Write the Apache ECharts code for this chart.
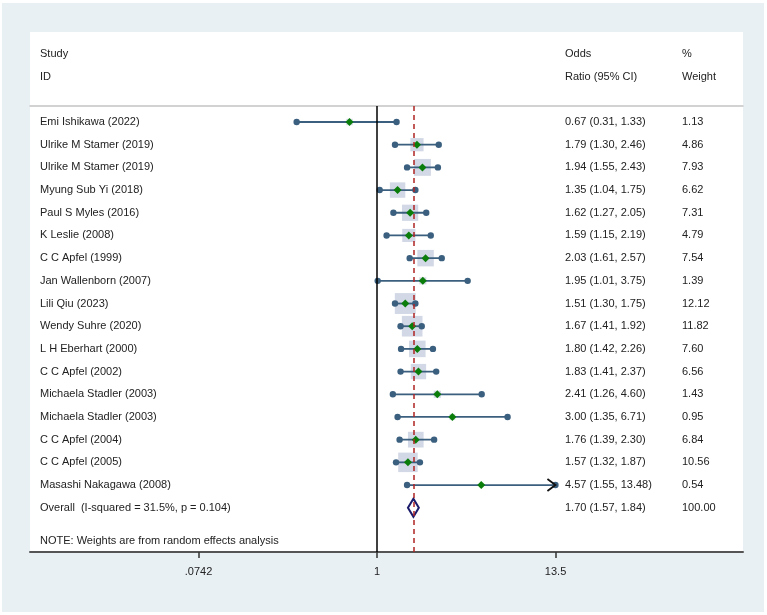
<!DOCTYPE html>
<html>
<head>
<meta charset="utf-8">
<script src="https://cdn.jsdelivr.net/npm/echarts@6/dist/echarts.min.js"></script>
<style>
  html, body { margin: 0; padding: 0; background: #fff; }
  #chart { width: 767px; height: 615px; }
</style>
</head>
<body>
<div id="chart"></div>
<script>
// study rows (top to bottom)
const studies = [
    'Emi Ishikawa (2022)', 'Ulrike M Stamer (2019)', 'Ulrike M Stamer (2019)',
    'Myung Sub Yi (2018)', 'Paul S Myles (2016)', 'K Leslie (2008)',
    'C C Apfel (1999)', 'Jan Wallenborn (2007)', 'Lili Qiu (2023)',
    'Wendy Suhre (2020)', 'L H Eberhart (2000)', 'C C Apfel (2002)',
    'Michaela Stadler (2003)', 'Michaela Stadler (2003)', 'C C Apfel (2004)',
    'C C Apfel (2005)', 'Masashi Nakagawa (2008)'
];
const oddsRatio = [0.67, 1.79, 1.94, 1.35, 1.62, 1.59, 2.03, 1.95, 1.51, 1.67, 1.80, 1.83, 2.41, 3.00, 1.76, 1.57, 4.57];
const ciLow = [0.31, 1.30, 1.55, 1.04, 1.27, 1.15, 1.61, 1.01, 1.30, 1.41, 1.42, 1.41, 1.26, 1.35, 1.39, 1.32, 1.55];
const ciHigh = [1.33, 2.46, 2.43, 1.75, 2.05, 2.19, 2.57, 3.75, 1.75, 1.92, 2.26, 2.37, 4.60, 6.71, 2.30, 1.87, 13.48];
const weights = [1.13, 4.86, 7.93, 6.62, 7.31, 4.79, 7.54, 1.39, 12.12, 11.82, 7.60, 6.56, 1.43, 0.95, 6.84, 10.56, 0.54];
const arrowRows = [16];

// pooled estimate
const overallLabel = 'Overall  (I-squared = 31.5%, p = 0.104)';
const overallOR = [1.70, 1.57, 1.84];
const overallWeight = '100.00';

// x axis ticks
const tickValues = [0.0742, 1, 13.5];
const tickLabels = ['.0742', '1', '13.5'];

const FONT = '"Liberation Sans", Arial, sans-serif';
const TXT = '#222';
const COL_ID = 40, COL_OR = 565, COL_W = 682;

const ln = Math.log;
const fmt = v => v.toFixed(2);

let chart = echarts.init(document.getElementById('chart'));

const studyData = studies.map((s, i) => [ln(oddsRatio[i]), i, ln(ciLow[i]), ln(ciHigh[i]), weights[i]]);

function txt(x, y, text, align) {
    return {
        type: 'text',
        style: { x: x, y: y, text: text, fill: TXT, font: '11px ' + FONT, textAlign: align || 'left', textVerticalAlign: 'middle' }
    };
}

function renderStudy(params, api) {
    const i = params.dataIndex;
    const row = api.value(1);
    const c = api.coord([api.value(0), row]);
    const l = api.coord([api.value(2), row]);
    const h = api.coord([api.value(3), row]);
    const side = 6 * Math.sqrt(api.value(4));
    const y = c[1];
    const blue = '#3b5f7e';
    const children = [
        { type: 'rect', shape: { x: c[0] - side / 2, y: y - side / 2, width: side, height: side }, style: { fill: '#d2d8e5' } },
        { type: 'line', shape: { x1: l[0], y1: y, x2: h[0], y2: y }, style: { stroke: blue, lineWidth: 1.8 } },
        { type: 'circle', shape: { cx: l[0], cy: y, r: 3.2 }, style: { fill: blue } },
        { type: 'circle', shape: { cx: h[0], cy: y, r: 3.2 }, style: { fill: blue } },
        { type: 'polygon', shape: { points: [[c[0] - 4, y], [c[0], y - 4], [c[0] + 4, y], [c[0], y + 4]] }, style: { fill: '#0b7d0b' } }
    ];
    if (arrowRows.indexOf(i) >= 0) {
        children.push({ type: 'polyline', shape: { points: [[h[0] - 8, y - 6], [h[0], y], [h[0] - 8, y + 6]] }, style: { stroke: '#111', lineWidth: 1.8, fill: null } });
    }
    children.push(txt(COL_ID, y, studies[i]));
    children.push(txt(COL_OR, y, fmt(oddsRatio[i]) + ' (' + fmt(ciLow[i]) + ', ' + fmt(ciHigh[i]) + ')'));
    children.push(txt(COL_W, y, fmt(weights[i])));
    return { type: 'group', children: children };
}

function renderOverall(params, api) {
    const row = api.value(1);
    const c = api.coord([api.value(0), row]);
    const l = api.coord([api.value(2), row]);
    const h = api.coord([api.value(3), row]);
    const y = c[1];
    return {
        type: 'group',
        children: [
            { type: 'polygon', shape: { points: [[l[0], y], [c[0], y - 9], [h[0], y], [c[0], y + 9]] }, style: { fill: '#fff', stroke: '#1b1b6b', lineWidth: 2 } },
            txt(COL_ID, y, overallLabel),
            txt(COL_OR, y, fmt(overallOR[0]) + ' (' + fmt(overallOR[1]) + ', ' + fmt(overallOR[2]) + ')'),
            txt(COL_W, y, overallWeight)
        ]
    };
}

const xMin = (30 - 377) / 68.6;
const xMax = (743 - 377) / 68.6;
const tickLn = tickValues.map(ln);

chart.setOption({
    backgroundColor: '#fff',
    animation: false,
    graphic: [
        { type: 'rect', z: -20, shape: { x: 2, y: 3, width: 762, height: 609 }, style: { fill: '#e9f0f3' } },
        { type: 'rect', z: -10, shape: { x: 30, y: 32, width: 713, height: 520 }, style: { fill: '#fff' } },
        { type: 'text', left: 40, top: 48, style: { text: 'Study', fill: TXT, font: '11px ' + FONT } },
        { type: 'text', left: 40, top: 71, style: { text: 'ID', fill: TXT, font: '11px ' + FONT } },
        { type: 'text', left: COL_OR, top: 48, style: { text: 'Odds', fill: TXT, font: '11px ' + FONT } },
        { type: 'text', left: COL_OR, top: 71, style: { text: 'Ratio (95% CI)', fill: TXT, font: '11px ' + FONT } },
        { type: 'text', left: COL_W, top: 48, style: { text: '%', fill: TXT, font: '11px ' + FONT } },
        { type: 'text', left: COL_W, top: 71, style: { text: 'Weight', fill: TXT, font: '11px ' + FONT } },
        { type: 'text', left: 40, top: 535, style: { text: 'NOTE: Weights are from random effects analysis', fill: TXT, font: '11px ' + FONT } }
    ],
    grid: { left: 30, right: 24, top: 106, bottom: 63 },
    xAxis: [
        {
            type: 'value',
            position: 'bottom',
            min: xMin,
            max: xMax,
            splitLine: { show: false },
            axisLine: { onZero: false, lineStyle: { color: '#555', width: 2 } },
            axisTick: { customValues: tickLn, length: 6, lineStyle: { color: '#333', width: 1.5 } },
            axisLabel: {
                customValues: tickLn,
                margin: 14,
                color: TXT,
                fontSize: 11,
                fontFamily: FONT,
                formatter: function (v) {
                    let best = 0;
                    tickLn.forEach((t, k) => { if (Math.abs(t - v) < Math.abs(tickLn[best] - v)) best = k; });
                    return tickLabels[best];
                }
            }
        },
        {
            type: 'value',
            position: 'top',
            min: xMin,
            max: xMax,
            splitLine: { show: false },
            axisLine: { onZero: false, lineStyle: { color: '#c4c4c4', width: 1.5 } },
            axisTick: { show: false },
            axisLabel: { show: false }
        }
    ],
    yAxis: {
        type: 'value',
        inverse: true,
        min: (106 - 122) / 22.69,
        max: (552 - 122) / 22.69,
        show: false
    },
    series: [
        {
            type: 'scatter',
            data: [],
            z: 1,
            markLine: {
                silent: true,
                symbol: 'none',
                label: { show: false },
                data: [
                    { xAxis: 0, lineStyle: { color: '#000', type: 'solid', width: 1.5 } },
                    { xAxis: ln(overallOR[0]), lineStyle: { color: '#b02424', type: [5, 4], width: 1.5 } }
                ]
            }
        },
        {
            type: 'custom',
            renderItem: renderStudy,
            data: studyData,
            z: 3
        },
        {
            type: 'custom',
            renderItem: renderOverall,
            data: [[ln(overallOR[0]), studies.length, ln(overallOR[1]), ln(overallOR[2])]],
            z: 3
        }
    ]
});
</script>
</body>
</html>
